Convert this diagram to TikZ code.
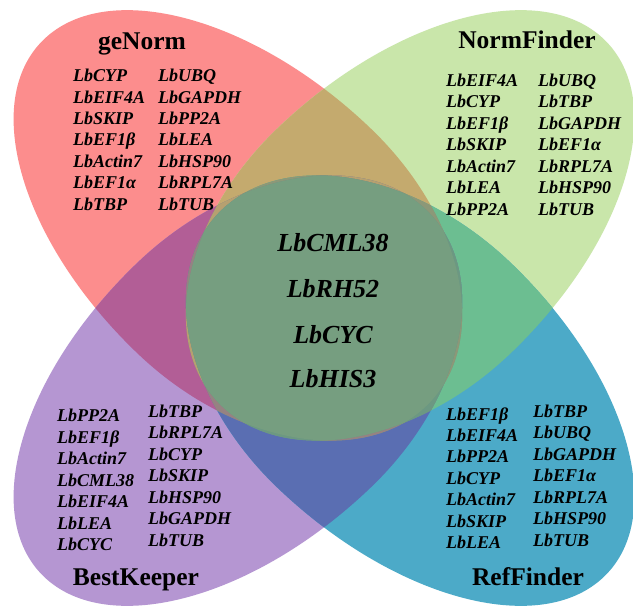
\documentclass[tikz,border=0pt]{standalone}
\usepackage{fontspec}
\setmainfont{Liberation Serif}
\definecolor{cR}{RGB}{252,141,141}
\definecolor{cG}{RGB}{201,230,170}
\definecolor{cP}{RGB}{181,150,210}
\definecolor{cB}{RGB}{76,170,200}
\definecolor{cRG}{RGB}{196,170,110}
\definecolor{cRP}{RGB}{178,94,150}
\definecolor{cGB}{RGB}{108,190,145}
\definecolor{cPB}{RGB}{90,110,178}
\definecolor{cRGP}{RGB}{182,160,112}
\definecolor{cRGB}{RGB}{140,152,120}
\definecolor{cRPB}{RGB}{150,130,130}
\definecolor{cGPB}{RGB}{108,152,130}
\definecolor{cAll}{RGB}{118,158,128}
% egg shape in a local frame: +x points to the centre of the diagram
\newcommand\egg{(-100,167) arc[start angle=90, end angle=270, x radius=300pt, y radius=167pt]
  arc[start angle=-90, end angle=90, x radius=246pt, y radius=167pt] -- cycle}
\newcommand\fillall[1]{\fill[#1] (-10,-10) rectangle (650,620);}
\tikzset{
  eR/.style={shift={(324pt,-308pt)},xscale=0.99,yscale=0.95,rotate=-45,x=1pt,y=1pt},
  eG/.style={shift={(324pt,-308pt)},xscale=0.99,yscale=0.95,rotate=-135,x=1pt,y=1pt},
  eP/.style={shift={(324pt,-308pt)},xscale=0.99,yscale=0.95,rotate=45,x=1pt,y=1pt},
  eB/.style={shift={(324pt,-308pt)},xscale=0.99,yscale=0.95,rotate=135,x=1pt,y=1pt},
  gene/.style={anchor=base west, inner sep=0pt, font=\fontsize{18}{18}\selectfont\bfseries\itshape},
  settitle/.style={anchor=base, inner sep=0pt, font=\fontsize{25.5}{25}\selectfont\bfseries},
  core/.style={anchor=base, inner sep=0pt, font=\fontsize{26}{26}\selectfont\bfseries\itshape}
}
\begin{document}
\begin{tikzpicture}[x=1pt,y=-1pt]
\useasboundingbox (0,0) rectangle (633,608);
\fill[white] (0,0) rectangle (633,608);
% single sets
\fill[cR, eR] \egg;
\fill[cG, eG] \egg;
\fill[cP, eP] \egg;
\fill[cB, eB] \egg;
% pairs
\begin{scope}\clip[eR] \egg; \clip[eG] \egg; \fillall{cRG}\end{scope}
\begin{scope}\clip[eR] \egg; \clip[eP] \egg; \fillall{cRP}\end{scope}
\begin{scope}\clip[eG] \egg; \clip[eB] \egg; \fillall{cGB}\end{scope}
\begin{scope}\clip[eP] \egg; \clip[eB] \egg; \fillall{cPB}\end{scope}
\begin{scope}\clip[eR] \egg; \clip[eB] \egg; \fillall{cAll}\end{scope}
\begin{scope}\clip[eG] \egg; \clip[eP] \egg; \fillall{cAll}\end{scope}
% triples
\begin{scope}\clip[eR] \egg; \clip[eG] \egg; \clip[eP] \egg; \fillall{cRGP}\end{scope}
\begin{scope}\clip[eR] \egg; \clip[eG] \egg; \clip[eB] \egg; \fillall{cRGB}\end{scope}
\begin{scope}\clip[eR] \egg; \clip[eP] \egg; \clip[eB] \egg; \fillall{cRPB}\end{scope}
\begin{scope}\clip[eG] \egg; \clip[eP] \egg; \clip[eB] \egg; \fillall{cGPB}\end{scope}
% all four
\begin{scope}\clip[eR] \egg; \clip[eG] \egg; \clip[eP] \egg; \clip[eB] \egg; \fillall{cAll}\end{scope}

% titles
\node[settitle] (tR) at (142,49.3) {geNorm};
\node[settitle] (tG) at (527,48.3) {NormFinder};
\node[settitle] (tP) at (136,585) {BestKeeper};
\node[settitle] (tB) at (528,585) {RefFinder};

% geNorm
\node[gene] (r1) at (73,81.7) {LbCYP};
\node[gene] (r2) at (73,103.1) {LbEIF4A};
\node[gene] (r3) at (73,124.5) {LbSKIP};
\node[gene] (r4) at (73,145.9) {LbEF1β};
\node[gene] (r5) at (73,167.3) {LbActin7};
\node[gene] (r6) at (73,188.7) {LbEF1α};
\node[gene] (r7) at (73,210.1) {LbTBP};
\node[gene] (r8) at (158,81.7) {LbUBQ};
\node[gene] (r9) at (158,103.1) {LbGAPDH};
\node[gene] (r10) at (158,124.5) {LbPP2A};
\node[gene] (r11) at (158,145.9) {LbLEA};
\node[gene] (r12) at (158,167.3) {LbHSP90};
\node[gene] (r13) at (158,188.7) {LbRPL7A};
\node[gene] (r14) at (158,210.1) {LbTUB};

% NormFinder
\node[gene] (g1) at (446,86) {LbEIF4A};
\node[gene] (g2) at (446,107.5) {LbCYP};
\node[gene] (g3) at (446,129) {LbEF1β};
\node[gene] (g4) at (446,150.5) {LbSKIP};
\node[gene] (g5) at (446,172) {LbActin7};
\node[gene] (g6) at (446,193.5) {LbLEA};
\node[gene] (g7) at (446,215) {LbPP2A};
\node[gene] (g8) at (538,86) {LbUBQ};
\node[gene] (g9) at (538,107.5) {LbTBP};
\node[gene] (g10) at (538,129) {LbGAPDH};
\node[gene] (g11) at (538,150.5) {LbEF1α};
\node[gene] (g12) at (538,172) {LbRPL7A};
\node[gene] (g13) at (538,193.5) {LbHSP90};
\node[gene] (g14) at (538,215) {LbTUB};

% BestKeeper
\node[gene] (p1) at (57,421.7) {LbPP2A};
\node[gene] (p2) at (57,443.2) {LbEF1β};
\node[gene] (p3) at (57,464.7) {LbActin7};
\node[gene] (p4) at (57,486.2) {LbCML38};
\node[gene] (p5) at (57,507.7) {LbEIF4A};
\node[gene] (p6) at (57,529.2) {LbLEA};
\node[gene] (p7) at (57,550.7) {LbCYC};
\node[gene] (p8) at (148,417.3) {LbTBP};
\node[gene] (p9) at (148,438.8) {LbRPL7A};
\node[gene] (p10) at (148,460.3) {LbCYP};
\node[gene] (p11) at (148,481.8) {LbSKIP};
\node[gene] (p12) at (148,503.3) {LbHSP90};
\node[gene] (p13) at (148,524.8) {LbGAPDH};
\node[gene] (p14) at (148,546.3) {LbTUB};

% RefFinder
\node[gene] (b1) at (446,420) {LbEF1β};
\node[gene] (b2) at (446,441.4) {LbEIF4A};
\node[gene] (b3) at (446,462.8) {LbPP2A};
\node[gene] (b4) at (446,484.2) {LbCYP};
\node[gene] (b5) at (446,505.6) {LbActin7};
\node[gene] (b6) at (446,527) {LbSKIP};
\node[gene] (b7) at (446,548.4) {LbLEA};
\node[gene] (b8) at (533,417.3) {LbTBP};
\node[gene] (b9) at (533,438.8) {LbUBQ};
\node[gene] (b10) at (533,460.3) {LbGAPDH};
\node[gene] (b11) at (533,481.8) {LbEF1α};
\node[gene] (b12) at (533,503.3) {LbRPL7A};
\node[gene] (b13) at (533,524.8) {LbHSP90};
\node[gene] (b14) at (533,546.3) {LbTUB};

% core
\node[core] (c1) at (333,251.7) {LbCML38};
\node[core] (c2) at (333,297.3) {LbRH52};
\node[core] (c3) at (333,343.3) {LbCYC};
\node[core] (c4) at (333,387.7) {LbHIS3};
\end{tikzpicture}
\end{document}
